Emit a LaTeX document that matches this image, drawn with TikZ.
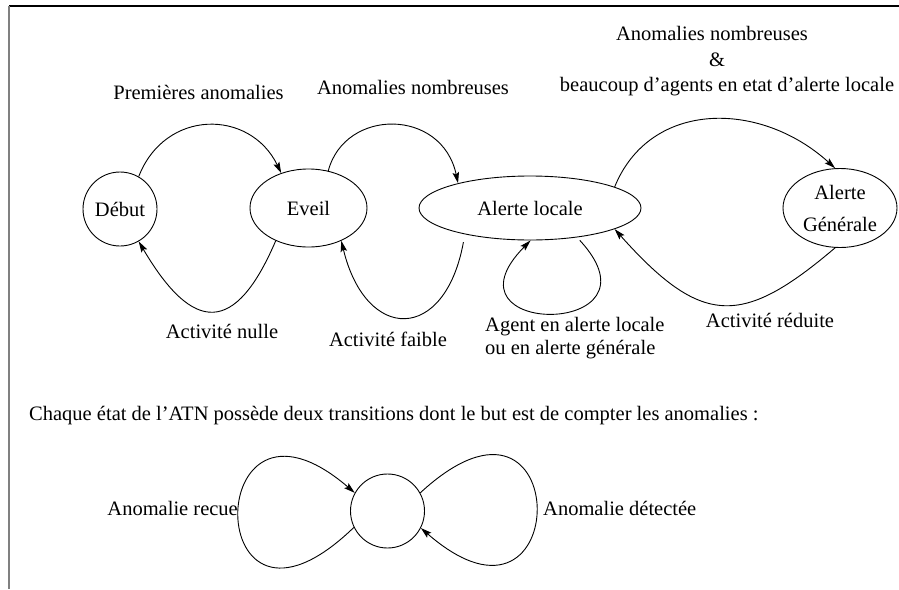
\documentclass[tikz,border=0pt]{standalone}
\usepackage{fontspec}
\setmainfont{Liberation Serif}
\usetikzlibrary{arrows.meta,shapes.geometric}

\begin{document}
\begin{tikzpicture}[x=1pt,y=-1pt,
  every node/.style={font=\fontsize{20.5}{23}\selectfont},
  state/.style={draw, line width=0.9pt, inner sep=0pt},
  edge/.style={draw, line width=0.9pt, -{Stealth[length=11pt,width=6.5pt,inset=2pt]}},
  lbl/.style={inner sep=0pt}]
\useasboundingbox (0,0) rectangle (899,589);

% frame
\draw[line width=1.2pt] (9,6) -- (899,6);
\draw[gray, line width=2pt] (9,6) -- (9,589);

% states of the ATN
\node[state, circle, minimum size=74pt] (debut) at (120,209) {Début};
\node[state, ellipse, minimum width=117pt, minimum height=78pt] (eveil) at (308.5,208) {Eveil};
\node[state, ellipse, minimum width=222pt, minimum height=64pt] (locale) at (530,208) {Alerte locale};
\node[state, ellipse, minimum width=114pt, minimum height=79pt, align=center,
      font=\fontsize{20.5}{32}\selectfont] (generale) at (840,208) {Alerte\\Générale};

% forward transitions
\draw[edge] (debut.60) .. controls (165,108.7) and (250,108.7) .. (eveil.128);
\draw[edge] (eveil.62) .. controls (345,107.8) and (442,107.8) .. (locale.161);
\draw[edge] (locale.14) .. controls (650,100) and (760,100) .. (generale.97);

% backward transitions
\draw[edge] (eveil.225) .. controls (235.5,334.7) and (193.5,334.7) .. (debut.300);
\draw[edge, shorten <=8pt] (locale.202) .. controls (445,343) and (366,343) .. (eveil.315);
\draw[edge] (generale.263) .. controls (742,327) and (702,327) .. (locale.346);

% loop on the local alert state
\draw[edge, shorten <=4pt] (locale.328) .. controls (670,338) and (434,338) .. (locale.271);

% transition labels
\node[lbl] (l1) at (198.5,92) {Premières anomalies};
\node[lbl] (l2) at (413,87) {Anomalies nombreuses};
\node[lbl] (l3a) at (712,33) {Anomalies nombreuses};
\node[lbl] (l3b) at (717,60) {\&};
\node[lbl] (l3c) at (727,87) {beaucoup d’agents en etat d’alerte locale};
\node[lbl] (l4) at (222,331) {Activité nulle};
\node[lbl] (l5) at (388,339) {Activité faible};
\node[lbl, anchor=west, align=left] (l6) at (485,338.5) {Agent en alerte locale\\ou en alerte générale};
\node[lbl] (l7) at (770,320) {Activité réduite};

% generic state with its two counting transitions
\node[lbl, anchor=west] (note) at (29,416) {Chaque état de l’ATN possède deux transitions dont le but est de compter les anomalies :};
\node[state, circle, minimum size=74pt] (s) at (387.5,511) {};
\draw[edge] (s.206) .. controls (200,676) and (200,360) .. (s.151);
\draw[edge] (s.29) .. controls (575,350) and (575,662) .. (s.333);
\node[lbl, anchor=east] (l8) at (238,508) {Anomalie recue};
\node[lbl, anchor=west] (l9) at (543,508) {Anomalie détectée};
\end{tikzpicture}
\end{document}
